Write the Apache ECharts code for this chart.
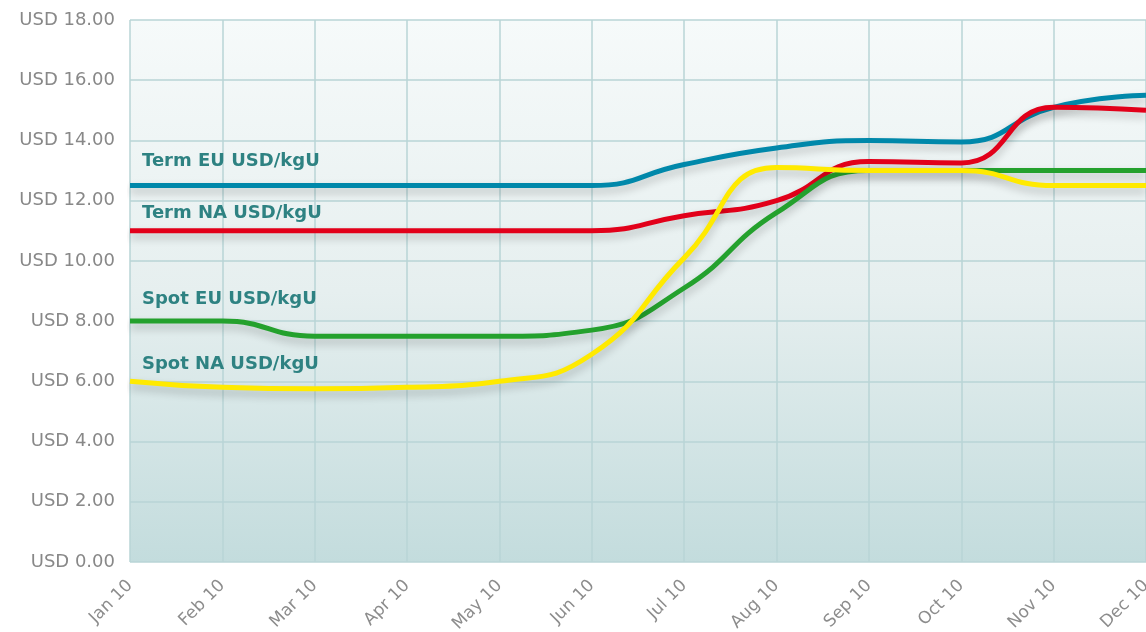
<!DOCTYPE html>
<html>
<head>
<meta charset="utf-8">
<script src="https://cdn.jsdelivr.net/npm/echarts@6/dist/echarts.min.js"></script>
<style>
  html, body { margin: 0; padding: 0; background: #fff; overflow: hidden; }
  #main { width: 1146px; height: 632px; }
</style>
</head>
<body>
<div id="main"></div>
<script>
  // months on the x axis
  var months = ['Jan 10', 'Feb 10', 'Mar 10', 'Apr 10', 'May 10', 'Jun 10',
                'Jul 10', 'Aug 10', 'Sep 10', 'Oct 10', 'Nov 10', 'Dec 10'];
  // prices, USD per kgU
  var termEU = [12.5, 12.5, 12.5, 12.5, 12.5, 12.5, 13.2, 13.75, 14.0, 13.95, 15.1, 15.5];
  var termNA = [11.0, 11.0, 11.0, 11.0, 11.0, 11.0, 11.5, 12.0, 13.3, 13.25, 15.1, 15.0];
  var spotEU = [8.0, 8.0, 7.5, 7.5, 7.5, 7.7, 9.1, 11.6, 13.0, 13.0, 13.0, 13.0];
  var spotNA = [6.0, 5.8, 5.75, 5.8, 6.0, 6.9, 10.1, 13.1, 13.0, 13.0, 12.5, 12.5];
  var seriesNames = ['Term EU USD/kgU', 'Term NA USD/kgU', 'Spot EU USD/kgU', 'Spot NA USD/kgU'];

  var colors = ['#0088aa', '#e2001a', '#24a12d', '#ffea00'];
  var gridColor = '#b9d5d6';

  // name label sits above the start of its line
  function makeSeries(name, data, color, labelLift) {
    return {
      name: name,
      type: 'line',
      data: data,
      smooth: 0.5,
      symbol: 'none',
      lineStyle: {
        width: 5,
        color: color,
        shadowColor: 'rgba(0,0,0,0.22)',
        shadowBlur: 8,
        shadowOffsetY: 5
      },
      markPoint: {
        silent: true,
        symbol: 'circle',
        symbolSize: 0,
        data: [{ coord: [0, data[0]] }],
        label: {
          show: true,
          position: 'right',
          distance: 0,
          offset: [12, -labelLift],
          color: '#2e8282',
          fontSize: 18,
          fontWeight: 'bold',
          fontFamily: 'DejaVu Sans',
          formatter: name
        }
      },
      emphasis: { disabled: true }
    };
  }

  var chart = echarts.init(document.getElementById('main'));
  chart.setOption({
    animation: false,
    grid: {
      left: 130, right: 0, top: 20, bottom: 70,
      outerBoundsMode: 'none',
      show: true,
      borderWidth: 0,
      backgroundColor: {
        type: 'linear', x: 0, y: 0, x2: 0, y2: 1,
        colorStops: [
          { offset: 0, color: '#f6fafa' },
          { offset: 0.5, color: '#e6efef' },
          { offset: 1, color: '#c3dcdd' }
        ]
      }
    },
    xAxis: {
      type: 'category',
      data: months,
      boundaryGap: false,
      axisLine: { show: false },
      axisTick: { show: false },
      splitLine: { show: true, lineStyle: { color: gridColor, width: 1.5 } },
      axisLabel: {
        rotate: 45,
        margin: 21,
        color: '#8c8c8c',
        fontSize: 17,
        fontFamily: 'DejaVu Sans',
        interval: 0
      }
    },
    yAxis: {
      type: 'value',
      min: 0,
      max: 18,
      interval: 2,
      axisLine: { show: false },
      axisTick: { show: false },
      splitLine: { show: true, lineStyle: { color: gridColor, width: 1.5 } },
      axisLabel: {
        margin: 15,
        color: '#888888',
        fontSize: 18,
        fontFamily: 'DejaVu Sans',
        formatter: function (v) { return 'USD ' + v.toFixed(2); }
      }
    },
    series: [
      makeSeries(seriesNames[0], termEU, colors[0], 24),
      makeSeries(seriesNames[1], termNA, colors[1], 17),
      makeSeries(seriesNames[2], spotEU, colors[2], 22),
      makeSeries(seriesNames[3], spotNA, colors[3], 17)
    ]
  });
</script>
</body>
</html>
